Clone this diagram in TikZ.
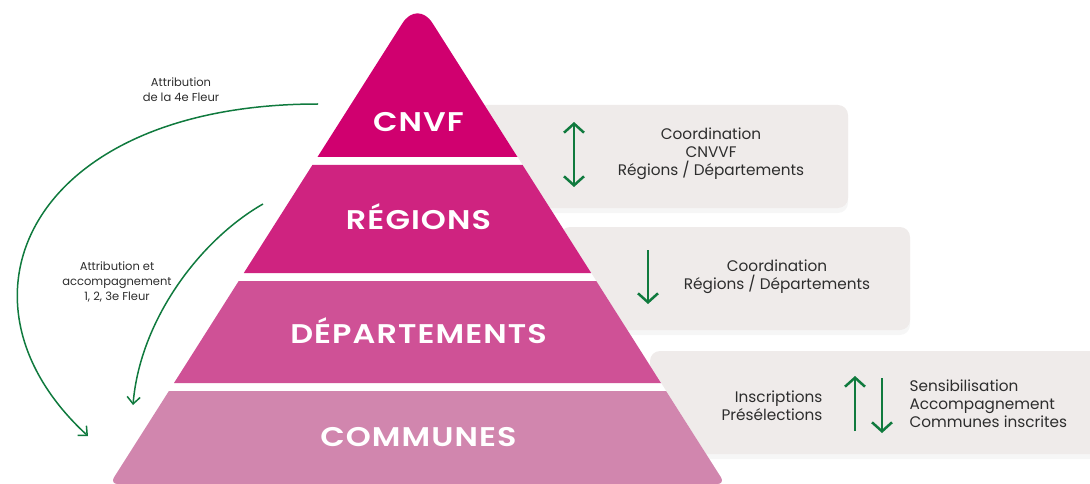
\documentclass[tikz,border=0pt]{standalone}
\usepackage{fontspec}
\setmainfont{Poppins}
\newfontfamily\lvlfont{Poppins SemiBold}[FakeStretch=1.18, LetterSpace=4]
\usetikzlibrary{arrows.meta}
\definecolor{cnvfcol}{RGB}{208,0,111}
\definecolor{regcol}{RGB}{207,35,128}
\definecolor{depcol}{RGB}{207,81,150}
\definecolor{comcol}{RGB}{209,134,174}
\definecolor{boxcol}{RGB}{239,235,234}
\definecolor{arrcol}{RGB}{16,122,62}
\definecolor{txtcol}{RGB}{45,45,45}

\begin{document}
\begin{tikzpicture}[x=1pt, y=-1pt,
	lvl/.style={text=white, font=\fontsize{27}{30}\selectfont\lvlfont},
	info/.style={text=txtcol, font=\fontsize{15.3}{18}\selectfont},
	side/.style={text=txtcol, font=\fontsize{11.5}{15}\selectfont, align=center},
	shade/.style={black, opacity=0.035, rounded corners=10},
	flow/.style={draw=arrcol, line width=2.5pt, -{Straight Barb[length=9pt, width=20pt]}},
	flowtwo/.style={draw=arrcol, line width=2.5pt, {Straight Barb[length=9pt, width=20pt]}-{Straight Barb[length=9pt, width=20pt]}},
	curve/.style={draw=arrcol, line width=1.5pt, -{Straight Barb[length=7pt, width=13pt]}}]
		%%%%% START %%%%%
		\useasboundingbox (0, 0) rectangle (1090, 484);
		
		\fill[shade] (470, 108) rectangle (848, 213);
		\fill[shade] (560, 230) rectangle (910, 335);
		\fill[shade] (650, 354) rectangle (1110, 459);
		\fill[boxcol, rounded corners=10] (470, 105) rectangle (848, 208);
		\fill[boxcol, rounded corners=10] (560, 227) rectangle (910, 330);
		\fill[boxcol, rounded corners=10] (650, 351) rectangle (1110, 454);
		
		\fill[white] (109.8, 484) -- (417.5, -0.5) -- (725.2, 484) -- cycle;
		\fill[cnvfcol] (317.5, 157) [rounded corners=28]-- (417.5, -0.5) [sharp corners]-- (517.5, 157) -- cycle;
		\fill[regcol] (312.4, 165) -- (522.6, 165) -- (591.2, 273) -- (243.8, 273) -- cycle;
		\fill[depcol] (238.7, 281) -- (596.3, 281) -- (661.0, 383) -- (174.0, 383) -- cycle;
		\fill[comcol] (417.5, 391) -- (666.1, 391) [rounded corners=8]-- (725.2, 484) -- (109.8, 484) [sharp corners]-- (168.9, 391) -- cycle;
		
		\node[lvl] (cnvf) at (418.5, 122) {CNVF};
		\node[lvl] (regions) at (418.5, 217) {RÉGIONS};
		\node[lvl] (depts) at (418.5, 331) {DÉPARTEMENTS};
		\node[lvl] (communes) at (418.5, 437) {COMMUNES};
		
		\node[info, align=center] (coordA) at (711, 154) {Coordination\\CNVVF\\Régions / Départements};
		\node[info, align=center] (coordB) at (777, 277) {Coordination\\Régions / Départements};
		\node[info, align=right, anchor=east] (inscr) at (826, 405.5) {Inscriptions\\Présélections};
		\node[info, align=left, anchor=west] (sensib) at (906, 404) {Sensibilisation\\Accompagnement\\Communes inscrites};
		
		\coordinate (topA) at (574, 122);
		\coordinate (botA) at (574, 187);
		\draw[flowtwo] (topA) -- (botA);
		
		\coordinate (topB) at (648, 250);
		\coordinate (botB) at (648, 304);
		\draw[flow] (topB) -- (botB);
		
		\coordinate (upfrom) at (855, 431);
		\coordinate (upto) at (855, 376);
		\draw[flow] (upfrom) -- (upto);
		\coordinate (dnfrom) at (882, 378);
		\coordinate (dnto) at (882, 433);
		\draw[flow] (dnfrom) -- (dnto);
		
		\node[side] (fleur4) at (181, 89.5) {Attribution\\de la 4e Fleur};
		\node[side] (fleur123) at (117, 282) {Attribution et\\accompagnement\\1, 2, 3e Fleur};
		
		\coordinate (fromcnvf) at (318, 104);
		\coordinate (tocomA) at (88, 436);
		\draw[curve] (fromcnvf) .. controls (30, 104) and (-60, 300) .. (tocomA);
		
		\coordinate (fromreg) at (263, 204);
		\coordinate (tocomB) at (133, 405);
		\draw[curve] (fromreg) .. controls (200, 240) and (140, 320) .. (tocomB);
		%%%%% END %%%%%
\end{tikzpicture}
\end{document}
